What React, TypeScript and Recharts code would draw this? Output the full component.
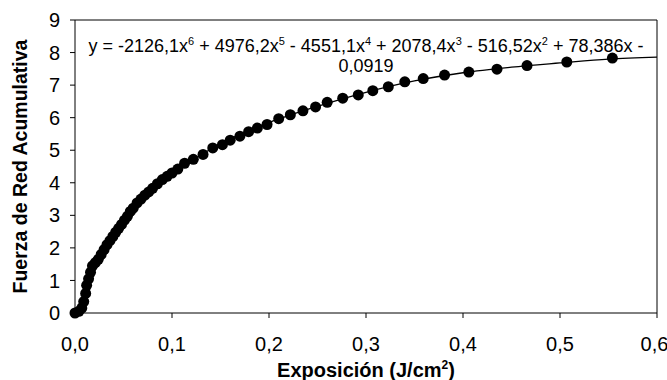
import React from 'react';
import { ComposedChart, Scatter, Line, XAxis, YAxis, ReferenceLine } from 'recharts';

// measured points (exposure J/cm2, cumulative net force)
const exposure = [
  0.0, 0.004, 0.007, 0.009, 0.011, 0.012, 0.014, 0.016, 0.018, 0.021, 0.024, 0.027,
  0.03, 0.033, 0.036, 0.039, 0.042, 0.045, 0.048, 0.051, 0.054, 0.057, 0.06, 0.064,
  0.068, 0.072, 0.076, 0.08, 0.085, 0.09, 0.095, 0.1, 0.106, 0.113, 0.122, 0.132,
  0.142, 0.152, 0.16, 0.17, 0.179, 0.188, 0.198, 0.21, 0.222, 0.235, 0.248, 0.26,
  0.276, 0.292, 0.307, 0.323, 0.34, 0.359, 0.381, 0.406, 0.435, 0.466, 0.507, 0.554,
];
const force = [
  0.0, 0.05, 0.15, 0.35, 0.6, 0.85, 1.05, 1.25, 1.45, 1.55, 1.65, 1.8,
  1.95, 2.1, 2.22, 2.35, 2.48, 2.6, 2.72, 2.85, 2.97, 3.12, 3.22, 3.38,
  3.5, 3.62, 3.72, 3.83, 3.97, 4.1, 4.2, 4.3, 4.42, 4.6, 4.72, 4.87,
  5.07, 5.17, 5.31, 5.43, 5.57, 5.68, 5.79, 5.97, 6.09, 6.21, 6.33, 6.47,
  6.6, 6.7, 6.83, 6.95, 7.1, 7.2, 7.31, 7.4, 7.49, 7.6, 7.71, 7.83,
];

// polynomial trend line
const trendX = [0, 0.01, 0.02, 0.03, 0.05, 0.075, 0.1, 0.15, 0.2, 0.25, 0.3, 0.35, 0.4, 0.45, 0.5, 0.55, 0.6];
const trendY = [0, 0.64, 1.28, 1.8, 2.77, 3.6, 4.25, 5.2, 5.85, 6.35, 6.78, 7.13, 7.38, 7.55, 7.68, 7.8, 7.86];

const xTicks = [0, 0.1, 0.2, 0.3, 0.4, 0.5, 0.6];
const yTicks = [0, 1, 2, 3, 4, 5, 6, 7, 8, 9];

const points = exposure.map((x, i) => ({ x, y: force[i] }));
const trend = trendX.map((x, i) => ({ x, y: trendY[i] }));

const font = '"Liberation Sans", Arial, sans-serif';
const sup = { fontSize: 11, verticalAlign: 'super', lineHeight: 0 } as const;

const XTitle = (props: any) => {
  const vb = props.viewBox;
  const cx = vb.x + vb.width / 2;
  return (
    <text x={cx} y={377} textAnchor="middle" fill="#000" fontSize={20} fontWeight="bold" fontFamily={font}>
      Exposición (J/cm<tspan fontSize={12} dy={-8}>2</tspan><tspan dy={8}>)</tspan>
    </text>
  );
};

export default function App() {
  return (
    <div style={{ position: 'absolute', left: 0, top: 0, width: 667, height: 380, background: '#fff', fontFamily: font }}>
      <ComposedChart width={667} height={380} margin={{ top: 20, right: 10, left: 0, bottom: 0 }}>
        <XAxis
          type="number"
          dataKey="x"
          domain={[0, 0.6]}
          ticks={xTicks}
          tickFormatter={(v: number) => v.toFixed(1).replace('.', ',')}
          height={67}
          tickSize={5}
          tickMargin={19}
          stroke="#000"
          tick={{ fill: '#000', fontSize: 20, fontFamily: font }}
          label={<XTitle />}
        />
        <YAxis
          type="number"
          dataKey="y"
          domain={[0, 9]}
          ticks={yTicks}
          width={75}
          tickSize={5}
          tickMargin={10}
          stroke="#000"
          tick={{ fill: '#000', fontSize: 20, fontFamily: font }}
          label={{ value: 'Fuerza de Red Acumulativa', angle: -90, position: 'insideLeft', offset: 20, fill: '#000', fontSize: 19.5, fontWeight: 'bold', fontFamily: font, style: { textAnchor: 'middle' } }}
        />
        <ReferenceLine y={9} stroke="#000" />
        <ReferenceLine x={0.6} stroke="#000" />
        <Line data={trend} dataKey="y" type="monotone" stroke="#000" strokeWidth={1.3} dot={false} isAnimationActive={false} />
        <Scatter
          data={points}
          dataKey="y"
          fill="#000"
          isAnimationActive={false}
          shape={(p: any) => <circle cx={p.cx} cy={p.cy} r={5.5} fill="#000" />}
        />
      </ComposedChart>
      <div style={{ position: 'absolute', left: 76, top: 36, width: 580, textAlign: 'center', fontSize: 18, lineHeight: '20px', color: '#000' }}>
        y = -2126,1x<span style={sup}>6</span> + 4976,2x<span style={sup}>5</span> - 4551,1x<span style={sup}>4</span> + 2078,4x<span style={sup}>3</span> - 516,52x<span style={sup}>2</span> + 78,386x -
        <br />
        0,0919
      </div>
    </div>
  );
}
